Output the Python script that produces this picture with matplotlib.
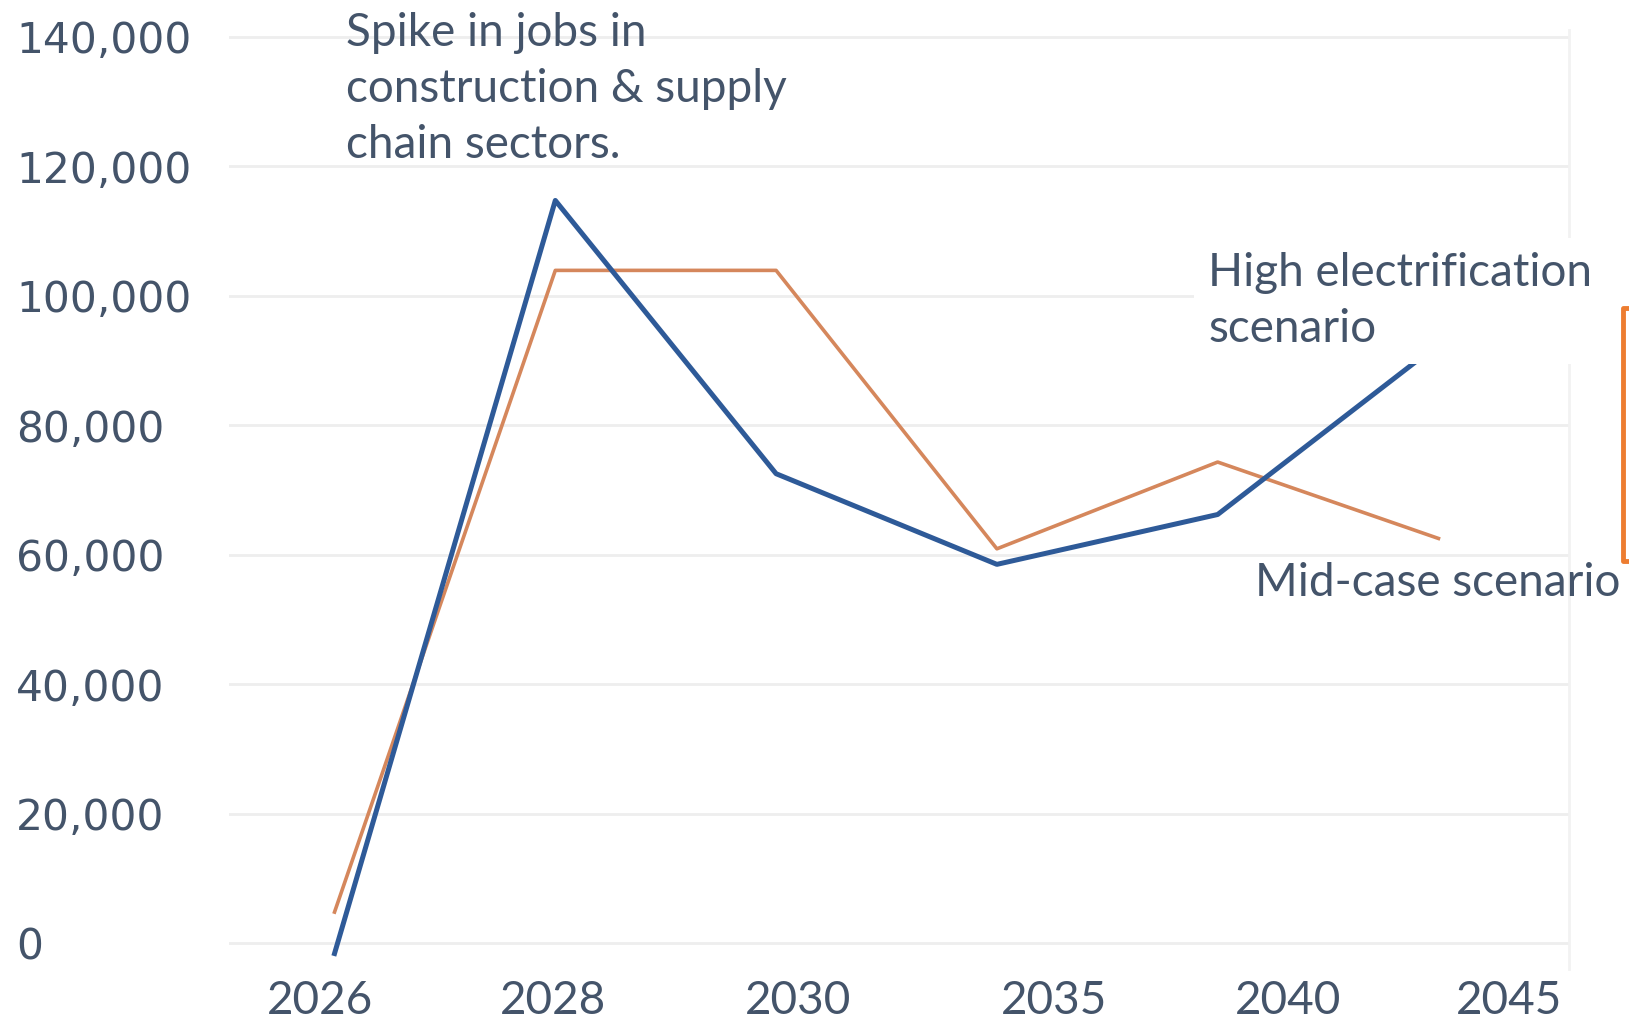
import matplotlib.pyplot as plt
from matplotlib.lines import Line2D

# Jobs by year
years = ['2026', '2028', '2030', '2035', '2040', '2045']
high_electrification = [-1600, 114700, 72500, 58500, 66200, 92500]
mid_case = [4800, 103900, 103900, 60900, 74300, 62500]
y_ticks = [0, 20000, 40000, 60000, 80000, 100000, 120000, 140000]

TEXT = '#44546A'
BLUE = '#2E5A98'
ORANGE = '#D5875C'

fig = plt.figure(figsize=(16.29, 10.22), dpi=100)
ax = fig.add_axes([0.1403, 0.0518, 0.8227, 0.9187])

x = list(range(len(years)))
ax.plot(x, mid_case, color=ORANGE, lw=2.6, zorder=3)
ax.plot(x, high_electrification, color=BLUE, lw=3.6, zorder=4)

ax.set_xlim(-0.48, 5.59)
ax.set_ylim(-4000, 141000)

# gridlines
ax.set_yticks(y_ticks)
ax.grid(axis='y', color='#eeeeee', lw=2)
ax.set_axisbelow(True)
for s in ['top', 'left', 'bottom']:
    ax.spines[s].set_visible(False)
ax.spines['right'].set_color('#f2f2f2')
ax.spines['right'].set_linewidth(2)

ax.set_yticklabels([f'{v:,}' for v in y_ticks], family='DejaVu Sans',
                   fontsize=30.5, color=TEXT, ha='left')
ax.tick_params(axis='y', length=0, pad=153)

# tick labels sit a little off the data points in the source
ax.set_xticks([-0.066, 0.988, 2.10, 3.26, 4.32, 5.32])
ax.set_xticklabels(years, family='Lato', fontsize=33, color=TEXT)
ax.tick_params(axis='x', length=0, pad=8)

fig.text(333 / 1568, 1 - 86 / 984, 'Spike in jobs in\nconstruction & supply\nchain sectors.',
         family='Lato', fontsize=33, color=TEXT, va='center', ha='left',
         linespacing=1.41)

fig.text(1163 / 1568, 1 - 290 / 984, 'High electrification\nscenario',
         family='Lato', fontsize=33, color=TEXT, va='center', ha='left',
         linespacing=1.41, zorder=6,
         bbox=dict(facecolor='white', edgecolor='none', pad=10))

fig.text(0.995, 1 - 561 / 984, 'Mid-case scenario', family='Lato', fontsize=33,
         color=TEXT, va='center', ha='right')

# orange bracket at the right edge
bx = 1562 / 1568
y0, y1 = 1 - 297 / 984, 1 - 540 / 984
fig.add_artist(Line2D([1.0, bx, bx, 1.0], [y0, y0, y1, y1],
                      transform=fig.transFigure, color='#ED7D31', lw=3.5))

fig.savefig('out.png', dpi=100)
